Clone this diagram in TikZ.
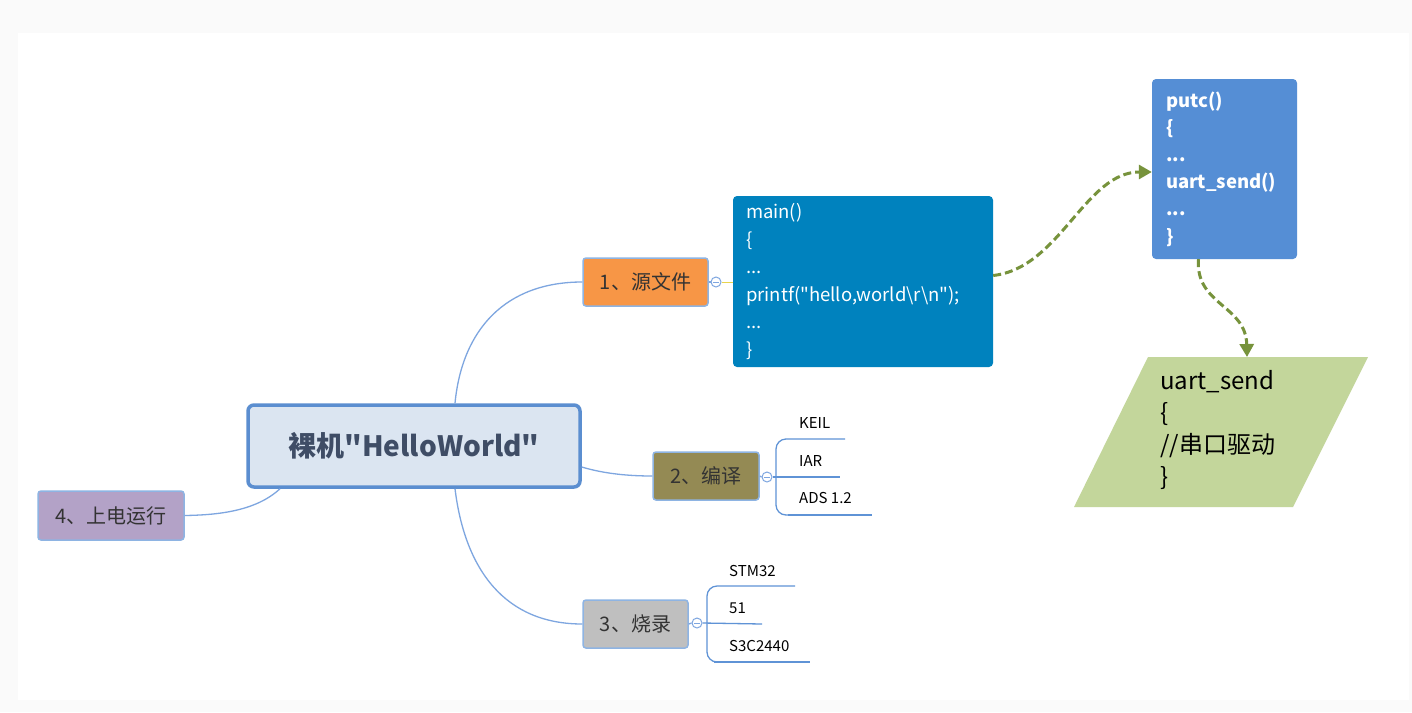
\documentclass[tikz,border=0pt]{standalone}
\usepackage{fontspec}
\setmainfont{Noto Sans CJK SC}
\usetikzlibrary{arrows.meta}
\newcommand\dq{\XeTeXglyph\XeTeXcharglyph"22\relax}
\definecolor{bgout}{HTML}{FAFAFA}
\definecolor{connc}{HTML}{7EA6E0}
\definecolor{rootfill}{HTML}{DBE5F1}
\definecolor{rootdraw}{HTML}{5B8ED0}
\definecolor{roottext}{HTML}{3F4D66}
\definecolor{brdraw}{HTML}{8EB4E3}
\definecolor{brtext}{HTML}{333333}
\definecolor{orangef}{HTML}{F79646}
\definecolor{olivef}{HTML}{948A54}
\definecolor{grayf}{HTML}{BFBFBF}
\definecolor{purplef}{HTML}{B3A2C7}
\definecolor{mainf}{HTML}{0082BE}
\definecolor{putcf}{HTML}{558ED5}
\definecolor{paraf}{HTML}{C3D69B}
\definecolor{arrowc}{HTML}{77933C}
\definecolor{yell}{HTML}{E8D44D}
\definecolor{subline}{HTML}{5F93D6}
\tikzset{
  conn/.style={draw=connc, line width=1.3pt},
  rootbox/.style={draw=rootdraw, line width=3.5pt, fill=rootfill, rounded corners=6pt,
    minimum width=332pt, minimum height=82pt, text=roottext,
    font=\fontsize{28}{32}\selectfont\bfseries},
  branch/.style={draw=brdraw, line width=1.5pt, rounded corners=3pt, text=brtext,
    font=\fontsize{20}{22}\selectfont, minimum height=48pt},
  codebox/.style={rounded corners=4pt, text=white, align=left, inner ysep=0pt},
  collapse/.style={circle, draw=connc, fill=white, line width=1pt, minimum size=10pt, inner sep=0pt},
  sublab/.style={anchor=base west, inner sep=0pt, text=black, font=\fontsize{15}{17}\selectfont},
  sublink/.style={draw=subline, line width=1.3pt},
  dasharrow/.style={draw=arrowc, line width=3pt, dash pattern=on 8pt off 4pt,
    -{Triangle[length=13pt,width=14pt]}},
}
\begin{document}
\begin{tikzpicture}[x=1pt,y=-1pt]
\fill[bgout] (0,0) rectangle (1412,712);
\fill[white] (18,33) rectangle (1409,700);
\useasboundingbox (0,0) rectangle (1412,712);

% root
\node[rootbox] (root) at (414,446) {裸机\dq HelloWorld\dq};

% branches
\node[branch, fill=orangef, minimum width=125pt] (b1) at (645.5,282) {1、源文件};
\node[branch, fill=olivef, minimum width=106pt] (b2) at (706,476) {2、编译};
\node[branch, fill=grayf, minimum width=105pt] (b3) at (635.5,624) {3、烧录};
\node[branch, fill=purplef, minimum width=146pt, minimum height=49pt] (b4) at (111,515.5) {4、上电运行};

% connectors from root
\draw[conn] ([xshift=41pt]root.north) .. controls (462,330) and (505,282) .. (b1.west);
\draw[conn] ([xshift=41pt]root.south) .. controls (465,570) and (505,624) .. (b3.west);
\draw[conn] ([yshift=-21pt]root.east) .. controls (605,474) and (630,476) .. (b2.west);
\draw[conn] ([xshift=-134pt]root.south) .. controls (255,512) and (215,515) .. (b4.east);

% code boxes
\node[codebox, fill=mainf, minimum width=260pt, minimum height=171pt, text width=234pt, inner xsep=13pt,
  font=\fontsize{18.5}{27.5}\selectfont] (mainbox) at (863,281.5)
  {main()\\\{\\...\\printf(\dq hello,world\textbackslash r\textbackslash n\dq);\\...\\\}};
\node[codebox, fill=putcf, minimum width=145pt, minimum height=180pt, text width=117pt, inner xsep=14pt,
  font=\fontsize{18.5}{27.2}\selectfont\bfseries] (putc) at (1224.5,169)
  {putc()\\\{\\...\\uart\_send()\\...\\\}};

% parallelogram
\fill[paraf] (1148,357) -- (1368,357) -- (1293,507) -- (1074,507) -- cycle;
\coordinate (paratop) at (1247,357);
\node[anchor=west, align=left, inner sep=0pt, text=black, font=\fontsize{24}{32}\selectfont] (para) at (1160,430)
  {uart\_send\\\{\\//串口驱动\\\}};

% collapse circles and links
\node[collapse] (c1) at (716,282) {};
\node[collapse] (c2) at (767,477) {};
\node[collapse] (c3) at (697,623) {};
\foreach \c in {c1,c2,c3}{\draw[connc, line width=0.8pt] ([xshift=-3pt]\c.center) -- ([xshift=3pt]\c.center);}
\draw[conn] (b1.east) -- (c1.west);
\draw[yell, line width=1pt] (c1.east) -- (mainbox.west |- c1.east);
\draw[conn] (b2.east) -- (c2.west);
\draw[conn] (b3.east) -- (c3.west);

% dashed arrows
\draw[dasharrow] ([yshift=6pt]mainbox.east) .. controls (1060,268) and (1085,172) .. ([yshift=-3pt]putc.west);
\draw[dasharrow] ([xshift=-26pt]putc.south) .. controls (1195,305) and (1246,305) .. (paratop);

% sub items of 2
\coordinate (s2top) at (845,439);
\coordinate (s2mid) at (840,477);
\coordinate (s2bot) at (872,515);
\draw[sublink, rounded corners=10pt] (s2top) -- (776,439) -- (776,515) -- (795,515);
\draw[sublink] (c2.east) -- (s2mid);
\draw[subline, line width=2.6pt] (788,515) -- (s2bot);
\node[sublab] (keil) at (799,428.5) {KEIL};
\node[sublab] (iar) at (799,466.5) {IAR};
\node[sublab] (ads) at (799,503.5) {ADS 1.2};

% sub items of 3
\coordinate (s3top) at (795,586);
\coordinate (s3mid) at (762,624);
\coordinate (s3bot) at (810,662);
\draw[sublink, rounded corners=10pt] (s3top) -- (707,586) -- (707,662) -- (725,662);
\draw[sublink] (c3.east) -- (s3mid);
\draw[subline, line width=2.6pt] (714,662) -- (s3bot);
\node[sublab] (stm) at (729,576.5) {STM32};
\node[sublab] (f51) at (729,613.5) {51};
\node[sublab] (s3c) at (729,651.5) {S3C2440};
\end{tikzpicture}
\end{document}
